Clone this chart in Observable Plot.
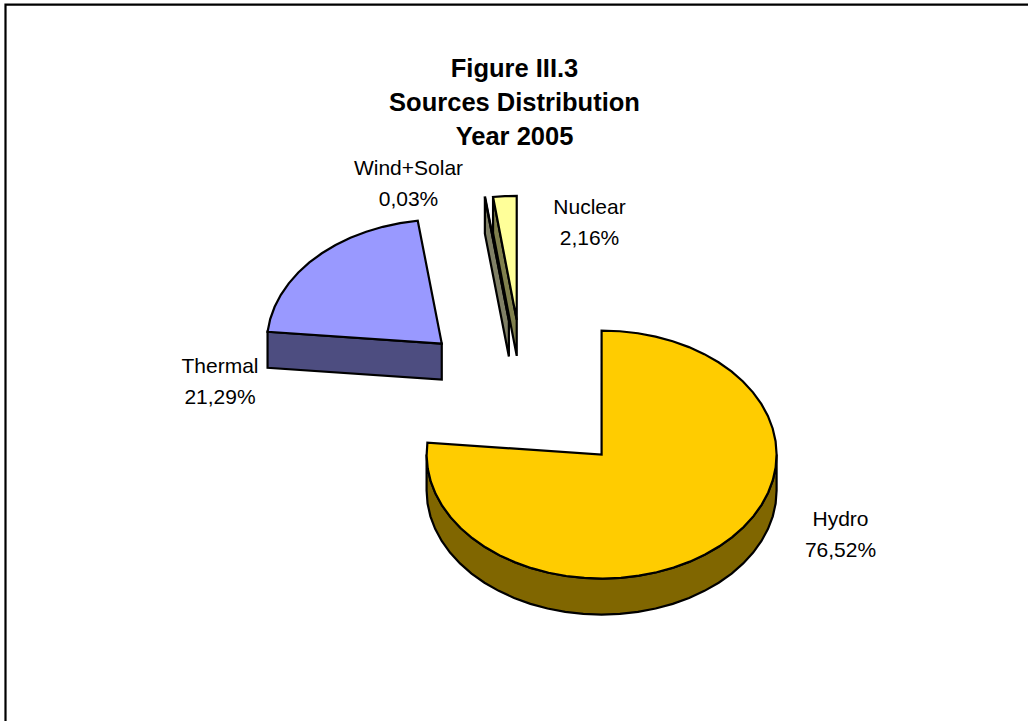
<!DOCTYPE html>
<html>
<head>
<meta charset="utf-8">
<script src="https://cdn.jsdelivr.net/npm/d3@7"></script>
<script src="https://cdn.jsdelivr.net/npm/@observablehq/plot@0.6"></script>
<style>
  html, body { margin: 0; padding: 0; background: #fff; }
  svg { display: block; }
</style>
</head>
<body>
<script>
// Electricity sources, share of the total for 2005 (percent)
const sources = ["Hydro", "Thermal", "Wind+Solar", "Nuclear"];
const shares = [76.52, 21.29, 0.03, 2.16];
const shareLabels = ["76,52%", "21,29%", "0,03%", "2,16%"];
const titleLines = ["Figure III.3", "Sources Distribution", "Year 2005"];

const topColors = ["#ffcc00", "#9999ff", "#ffffcc", "#ffff99"];
const wallColors = ["#806600", "#4d4d80", "#808066", "#80804d"];

// Pie space: unit ellipse, x to the right and y downwards.
const W = 1028, H = 721;
const RX = 175, RY = 124, CX = 524, CY = 396.7;
const DEPTH = 36 / RY;     // height of the slab
const EXPLODE_X = 0.655;   // how far each slice moves out along its middle angle
const EXPLODE_Y = 0.625;
const STEP = 6 * Math.PI / 180;

const arcs = d3.pie().sort(null)(shares);

function rim(a) { return [Math.sin(a), -Math.cos(a)]; }

function arcPoints(a0, a1) {
  const n = Math.max(1, Math.ceil((a1 - a0) / STEP));
  return d3.range(n + 1).map(i => rim(a0 + (a1 - a0) * i / n));
}

// Every slice becomes one or more closed rings, painted back to front.
const tops = [], walls = [];
arcs.forEach((arc, i) => {
  const mid = (arc.startAngle + arc.endAngle) / 2;
  const [mx, my] = rim(mid);
  const ox = mx * EXPLODE_X, oy = my * EXPLODE_Y;
  const move = (p, dz = 0) => [p[0] + ox, p[1] + oy + dz];
  const ring = (pts, list, part) =>
    pts.forEach(p => list.push({x: p[0], y: p[1], source: sources[i], part}));

  const rimPts = arcPoints(arc.startAngle, arc.endAngle);
  const apex = [0, 0];

  // top face
  ring([apex, ...rimPts].map(p => move(p)), tops, "top");

  // cut face along the leading edge; the slices on the left of the pie show it
  if (i > 0) {
    const first = rimPts[0];
    ring([move(apex), move(first), move(first, DEPTH), move(apex, DEPTH)], walls, "start");
  }

  // outer wall: only the part of the rim on the near side
  const a0 = Math.max(arc.startAngle, Math.PI / 2);
  const a1 = Math.min(arc.endAngle, 3 * Math.PI / 2);
  if (a1 > a0) {
    const front = arcPoints(a0, a1);
    ring([...front.map(p => move(p)), ...front.slice().reverse().map(p => move(p, DEPTH))], walls, "outer");
  }
});

const fillOf = d3.scaleOrdinal(sources, topColors);
const wallOf = d3.scaleOrdinal(sources, wallColors);
const slab = {curve: "linear-closed", stroke: "#000", strokeWidth: 2.2, strokeLinejoin: "miter", strokeMiterlimit: 10};

const labels = [
  {source: "Wind+Solar", px: 408, py: 168},
  {source: "Nuclear", px: 589, py: 207},
  {source: "Thermal", px: 219.5, py: 366},
  {source: "Hydro", px: 840, py: 519}
].flatMap(({source, px, py}) => {
  const i = sources.indexOf(source);
  return [{px, py, text: source}, {px, py: py + 31, text: shareLabels[i]}];
});

const titleRows = titleLines.map((text, i) => ({text, px: 514, py: 68 + 34 * i}));

const chart = Plot.plot({
  width: W, height: H,
  margin: 0,
  x: {axis: null, type: "linear", domain: [-CX / RX, (W - CX) / RX], range: [0, W]},
  y: {axis: null, type: "linear", domain: [-CY / RY, (H - CY) / RY], range: [0, H]},
  marks: [
    ...sources.flatMap(s => [
      Plot.line(walls.filter(d => d.source === s), {x: "x", y: "y", z: "part", fill: wallOf(s), ...slab}),
      Plot.line(tops.filter(d => d.source === s), {x: "x", y: "y", fill: fillOf(s), ...slab})
    ]),
    // chart frame: left and top edges
    Plot.line([{px: 5, py: 721}, {px: 5, py: 4.2}, {px: 1028, py: 4.2}],
      {x: d => (d.px - CX) / RX, y: d => (d.py - CY) / RY, stroke: "#000", strokeWidth: 2.2, strokeLinejoin: "miter", strokeMiterlimit: 10}),
    Plot.text(titleRows, {
      x: d => (d.px - CX) / RX, y: d => (d.py - CY) / RY, text: "text",
      fontFamily: "Liberation Sans", fontSize: 25.5, fontWeight: 700, fill: "#000"
    }),
    Plot.text(labels, {
      x: d => (d.px - CX) / RX, y: d => (d.py - CY) / RY, text: "text",
      fontFamily: "Liberation Sans", fontSize: 21, fill: "#000"
    })
  ]
});
document.body.appendChild(chart);
</script>
</body>
</html>
